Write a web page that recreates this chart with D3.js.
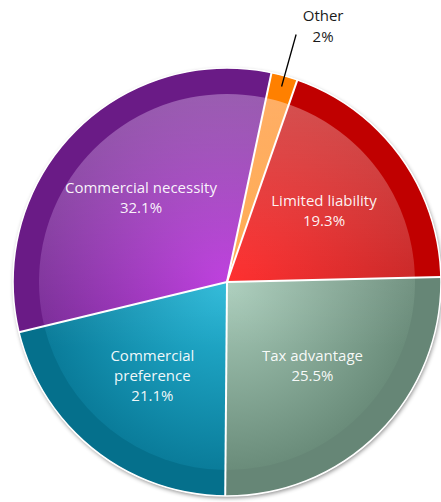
<!DOCTYPE html>
<html>
<head>
<meta charset="utf-8">
<script src="https://cdn.jsdelivr.net/npm/d3@7"></script>
<style>
  html, body { margin: 0; padding: 0; background: #ffffff; }
  svg { display: block; }
  text { font-family: "Open Sans", "Noto Sans", sans-serif; }
</style>
</head>
<body>
<svg id="chart" width="441" height="502"></svg>
<script>
// Reasons for choosing the company form (share of respondents)
const categories = ["Other", "Limited liability", "Tax advantage", "Commercial\npreference", "Commercial necessity"];
const values = [2, 19.3, 25.5, 21.1, 32.1];

// Palette: flat outer rim, bright core and darker edge of the inner disk
const rimColors  = ["#ff8000", "#c00000", "#668676", "#05708c", "#6a1b86"];
const coreColors = ["#ffa848", "#ff2222", "#aacdbb", "#28b8d8", "#ba34dc"];
const edgeColors = ["#ff9636", "#c81a1a", "#6a8c7a", "#0a7c9a", "#7a2a98"];

const width = 441, height = 502;
const cx = 227, cy = 282;
const outerR = 214, innerR = 188, labelR = 120;
const startDeg = 12;

const svg = d3.select("#chart");
const defs = svg.append("defs");

// soft shadow around the disc
const shadow = defs.append("filter").attr("id", "shadow")
  .attr("x", "-10%").attr("y", "-10%").attr("width", "120%").attr("height", "120%");
shadow.append("feDropShadow")
  .attr("dx", 1).attr("dy", 2).attr("stdDeviation", 2.2)
  .attr("flood-color", "#000").attr("flood-opacity", 0.45);

categories.forEach((c, i) => {
  const g = defs.append("radialGradient")
    .attr("id", "core" + i)
    .attr("gradientUnits", "userSpaceOnUse")
    .attr("cx", 0).attr("cy", 0).attr("r", innerR);
  g.append("stop").attr("offset", 0).attr("stop-color", coreColors[i]);
  g.append("stop").attr("offset", 1).attr("stop-color", edgeColors[i]);
});

// light from above on the inner disk
const sheen = defs.append("linearGradient")
  .attr("id", "sheen").attr("gradientUnits", "userSpaceOnUse")
  .attr("x1", 0).attr("y1", -innerR).attr("x2", 0).attr("y2", innerR * 0.35);
sheen.append("stop").attr("offset", 0).attr("stop-color", "#fff").attr("stop-opacity", 0.24);
sheen.append("stop").attr("offset", 1).attr("stop-color", "#fff").attr("stop-opacity", 0);

const pie = d3.pie().sort(null).value(d => d)
  .startAngle(startDeg * Math.PI / 180)
  .endAngle(startDeg * Math.PI / 180 + 2 * Math.PI);
const arcs = pie(values);

const rimArc = d3.arc().innerRadius(0).outerRadius(outerR);
const coreArc = d3.arc().innerRadius(0).outerRadius(innerR);
const labelArc = d3.arc().innerRadius(labelR).outerRadius(labelR);

const root = svg.append("g").attr("transform", `translate(${cx},${cy})`);

// shadowed backing disc with white outline
root.append("circle")
  .attr("r", outerR)
  .attr("fill", "#fff")
  .attr("filter", "url(#shadow)");

const slices = root.append("g");
slices.selectAll("path.rim").data(arcs).join("path")
  .attr("class", "rim")
  .attr("d", rimArc)
  .attr("fill", (d, i) => rimColors[i]);

slices.selectAll("path.core").data(arcs).join("path")
  .attr("class", "core")
  .attr("d", coreArc)
  .attr("fill", (d, i) => `url(#core${i})`);

root.append("circle")
  .attr("r", innerR)
  .attr("fill", "url(#sheen)");

// white separators between slices
root.append("g").selectAll("line").data(arcs).join("line")
  .attr("x1", 0).attr("y1", 0)
  .attr("x2", d => outerR * Math.sin(d.startAngle))
  .attr("y2", d => -outerR * Math.cos(d.startAngle))
  .attr("stroke", "#fff").attr("stroke-width", 2);

root.append("circle")
  .attr("r", outerR)
  .attr("fill", "none")
  .attr("stroke", "#fff")
  .attr("stroke-width", 1.6);

const fmt = v => `${v}%`;
const lineH = 20;

// labels inside the larger slices
const inside = arcs.filter(d => d.value >= 5);
inside.forEach(d => {
  const i = d.index;
  const lines = categories[i].split("\n").concat([fmt(values[i])]);
  const [lx, ly] = labelArc.centroid(d);
  const t = root.append("text")
    .attr("text-anchor", "middle")
    .attr("font-size", 15)
    .attr("fill", "#ffffff")
    .attr("fill-opacity", 0.95);
  lines.forEach((s, k) => {
    t.append("tspan")
      .attr("x", lx)
      .attr("y", ly - (lines.length - 1) * lineH / 2 + 5 + k * lineH)
      .text(s);
  });
});

// callout for the thin slice
arcs.filter(d => d.value < 5).forEach(d => {
  const i = d.index;
  const a = (d.startAngle + d.endAngle) / 2;
  const p0 = [203 * Math.sin(a), -203 * Math.cos(a)];
  const p1 = [257 * Math.sin(a), -257 * Math.cos(a)];
  root.append("line")
    .attr("x1", p0[0]).attr("y1", p0[1])
    .attr("x2", p1[0]).attr("y2", p1[1])
    .attr("stroke", "#000").attr("stroke-width", 1.3);
  const t = root.append("text")
    .attr("text-anchor", "middle")
    .attr("font-size", 15)
    .attr("fill", "#1a1a1a");
  [categories[i], fmt(values[i])].forEach((s, k) => {
    t.append("tspan")
      .attr("x", p1[0] + 27)
      .attr("y", p1[1] - 13 + k * 21)
      .text(s);
  });
});
</script>
</body>
</html>
